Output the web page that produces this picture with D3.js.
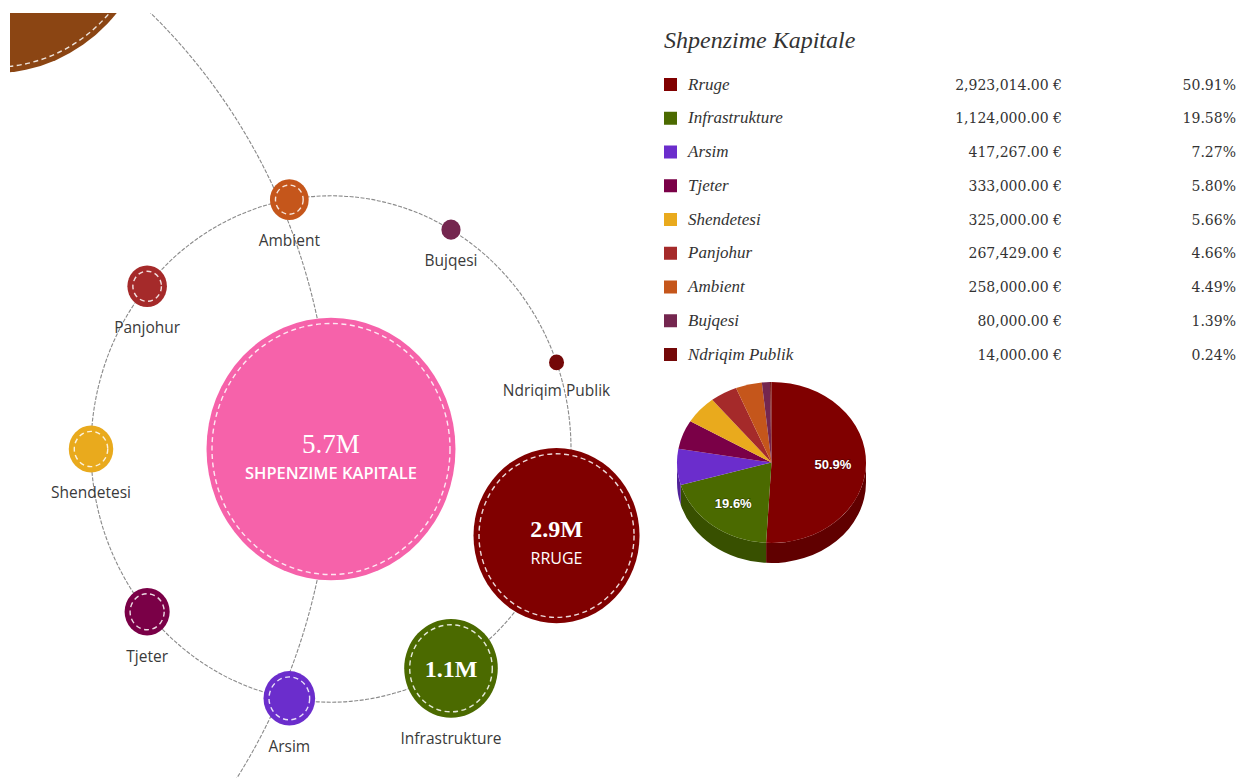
<!DOCTYPE html>
<html><head><meta charset="utf-8">
<script src="https://cdn.jsdelivr.net/npm/d3@7/dist/d3.min.js"></script>
<style>
body{margin:0;background:#fff;}
svg{display:block}
</style>
</head><body>
<svg id="chart" width="1238" height="778"></svg>
<script>
// ---------- DATA ----------
const rootName = "Shpenzime Kapitale";
const categories = ["Rruge","Infrastrukture","Arsim","Tjeter","Shendetesi","Panjohur","Ambient","Bujqesi","Ndriqim Publik"];
const values = [2923014,1124000,417267,333000,325000,267429,258000,80000,14000];
const colors = ["#800000","#4b6a00","#6b2dcc","#7a0047","#e9aa1d","#a52a2a","#c5561b","#74264f","#740808"];
const ringOrder = ["Ambient","Bujqesi","Ndriqim Publik","Rruge","Infrastrukture","Arsim","Tjeter","Shendetesi","Panjohur"];
const rootColor = "#f662aa";
// neighbouring nodes of the outer level (only partly visible)
const outerNames = ["parent","next"];
const outerValues = [8650000, null];
const outerColors = ["#8b4513", null];

// ---------- LAYOUT ----------
const svg = d3.select("#chart");
const S = 1.055;                       // vertical stretch of the original picture
const total = d3.sum(values);
const rScale = d3.scalePow().exponent(0.6).domain([0,total]).range([0,124.5]);
const radius = v => Math.max(7.5, rScale(v));
const fmtS = d3.format(".2s");

function polar(cx, cy, R, deg){
  const a = deg*Math.PI/180;
  return {x: cx + R*Math.sin(a), y: cy - R*Math.cos(a)*S};
}
const rootPos = {x:331, y:449};
const innerR = 240, innerStart = -10, innerStep = 360/ringOrder.length;
const outerR = 563.6, outerStep = 66.2;
const outerCenter = {x: rootPos.x - outerR, y: rootPos.y};

const byName = {};
categories.forEach((c,i)=> byName[c] = {name:c, value:values[i], color:colors[i]});
const ringNodes = ringOrder.map((n,i)=>{
  const p = polar(rootPos.x, rootPos.y, innerR, innerStart + i*innerStep);
  return Object.assign({}, byName[n], {x:p.x, y:p.y, ang: innerStart + i*innerStep, r: radius(byName[n].value)});
});
const outerNodes = outerNames.map((n,i)=>{
  const ang = 90 + (i===0 ? -outerStep : outerStep);
  const p = polar(outerCenter.x, outerCenter.y, outerR, ang);
  return {name:n, value:outerValues[i], color:outerColors[i], x:p.x, y:p.y, ang, r: outerValues[i] ? rScale(outerValues[i]) : 0};
});
const rootNode = {name:rootName, value:total, color:rootColor, x:rootPos.x, y:rootPos.y, r: rScale(total)};

// clip region for the bubble panel
svg.append("defs").append("clipPath").attr("id","clipL")
  .append("rect").attr("x",10).attr("y",13).attr("width",640).attr("height",765);
const gL = svg.append("g").attr("clip-path","url(#clipL)");

const arcPath = (a,b,R) => `M${a.x},${a.y} A${R},${R*S} 0 0 1 ${b.x},${b.y}`;

// links
const links = [];
links.push(arcPath(outerNodes[0], rootNode, outerR));
links.push(arcPath(rootNode, outerNodes[1], outerR));
ringNodes.forEach((n,i)=>{
  const m = ringNodes[(i+1)%ringNodes.length];
  links.push(arcPath(n, m, innerR));
});
gL.selectAll("path.link").data(links).join("path")
  .attr("class","link").attr("d",d=>d)
  .attr("fill","none").attr("stroke","#8a8a8a").attr("stroke-width",1.1)
  .attr("stroke-dasharray","4,1.5");

// nodes
const allNodes = [...outerNodes.filter(d=>d.value), rootNode, ...ringNodes];
const ng = gL.selectAll("g.node").data(allNodes).join("g").attr("class","node");
ng.append("ellipse").attr("cx",d=>d.x).attr("cy",d=>d.y)
  .attr("rx",d=>d.r).attr("ry",d=>d.r*S).attr("fill",d=>d.color);
ng.filter(d=>d.r>=15).append("ellipse").attr("cx",d=>d.x).attr("cy",d=>d.y)
  .attr("rx",d=>d.r-5.5).attr("ry",d=>(d.r-5.5)*S)
  .attr("fill","none").attr("stroke","#fff").attr("stroke-opacity",0.85)
  .attr("stroke-width",1.4).attr("stroke-dasharray","5,3.5");

const textNodes = [rootNode, ...ringNodes];
// values inside large bubbles
gL.selectAll("text.val").data(textNodes.filter(d=>d.r>40)).join("text")
  .attr("class","val")
  .attr("x",d=>d.x)
  .attr("y",d=> d.r>60 ? d.y + (d.r>100?4:1) : d.y + 9)
  .attr("text-anchor","middle")
  .attr("font-family","'Liberation Serif', serif")
  .attr("font-size",d=> d.r>100 ? 27 : 24)
  .attr("font-weight",d=> d.r>100 ? 400 : 700)
  .attr("fill","#fff")
  .text(d=>fmtS(d.value));
// names inside very large bubbles
gL.selectAll("text.nin").data(textNodes.filter(d=>d.r>60)).join("text")
  .attr("class","nin")
  .attr("x",d=>d.x)
  .attr("y",d=> d.y + (d.r>100?30:28))
  .attr("text-anchor","middle")
  .attr("font-family","'Open Sans', sans-serif")
  .attr("font-size",d=> d.r>100 ? 16.5 : 16)
  .attr("font-weight",d=> d.r>100 ? 600 : 400)
  .attr("fill","#fff")
  .text(d=>d.name.toUpperCase());
// labels under small bubbles
gL.selectAll("text.lab").data(ringNodes.filter(d=>d.r<=60)).join("text")
  .attr("class","lab")
  .attr("x",d=>d.x)
  .attr("y",d=> d.y + d.r*S + 26)
  .attr("text-anchor","middle")
  .attr("font-family","'Open Sans', sans-serif")
  .attr("font-size",15.5)
  .attr("fill","#3a3a3a")
  .text(d=>d.name);

// ---------- LEGEND ----------
const lx = 664;
svg.append("text").attr("x",lx).attr("y",48)
  .attr("font-family","'Liberation Serif', serif").attr("font-style","italic")
  .attr("font-size",24).attr("fill","#333").text(rootName);
const rowY = d3.scalePoint().domain(categories).range([84.5, 354.5]);
const lg = svg.selectAll("g.lrow").data(categories).join("g").attr("class","lrow");
lg.append("rect").attr("x",lx).attr("y",d=>rowY(d)-6.5).attr("width",13).attr("height",13)
  .attr("fill",(d,i)=>colors[i]);
lg.append("text").attr("x",688).attr("y",d=>rowY(d)+5)
  .attr("font-family","'Liberation Serif', serif").attr("font-style","italic")
  .attr("font-size",17).attr("fill","#333").text(d=>d);
lg.append("text").attr("x",1062).attr("y",d=>rowY(d)+5).attr("text-anchor","end")
  .attr("font-family","'DejaVu Serif', serif").attr("font-size",14).attr("fill","#333")
  .text((d,i)=>d3.format(",.2f")(values[i])+" €");
lg.append("text").attr("x",1236).attr("y",d=>rowY(d)+5).attr("text-anchor","end")
  .attr("font-family","'DejaVu Serif', serif").attr("font-size",14).attr("fill","#333")
  .text((d,i)=>(values[i]/total*100).toFixed(2)+"%");

// ---------- 3D PIE ----------
const pc = {x:771.5, y:462.5}, prx = 94.5, pry = 80.5, depth = 20;
const pt = (a, dy=0) => [pc.x + prx*Math.sin(a), pc.y - pry*Math.cos(a) + dy];
const arcs = d3.pie().sort(null).value(d=>d)(values);
const pg = svg.append("g");
// side walls (front half only)
arcs.forEach((a,i)=>{
  const b0 = Math.max(a.startAngle, Math.PI/2), b1 = Math.min(a.endAngle, 3*Math.PI/2);
  if (b1 <= b0) return;
  const p0 = pt(b0), p1 = pt(b1), q1 = pt(b1, depth), q0 = pt(b0, depth);
  pg.append("path")
    .attr("d",`M${p0} A${prx},${pry} 0 0 1 ${p1} L${q1} A${prx},${pry} 0 0 0 ${q0} Z`)
    .attr("fill", d3.color(colors[i]).darker(0.8));
});
// top faces
arcs.forEach((a,i)=>{
  const p0 = pt(a.startAngle), p1 = pt(a.endAngle);
  const large = (a.endAngle - a.startAngle) > Math.PI ? 1 : 0;
  pg.append("path")
    .attr("d",`M${pc.x},${pc.y} L${p0} A${prx},${pry} 0 ${large} 1 ${p1} Z`)
    .attr("fill", colors[i]);
});
// percentage labels for big slices
const mid = a => (a.startAngle + a.endAngle)/2;
pg.selectAll("text.pl").data(arcs.filter(a=>a.value/total>0.1)).join("text")
  .attr("class","pl")
  .attr("x",a=> pc.x + 0.65*prx*Math.sin(mid(a)))
  .attr("y",a=> pc.y - 0.65*pry*Math.cos(mid(a)) + 5)
  .attr("text-anchor","middle")
  .attr("font-family","'Liberation Sans', Arial, sans-serif")
  .attr("font-size",13).attr("font-weight",700)
  .attr("fill","#fff")
  .attr("stroke","rgba(0,0,0,0.3)").attr("stroke-width",1.5).attr("paint-order","stroke")
  .text(a=>(a.value/total*100).toFixed(1)+"%");
</script>
</body></html>
